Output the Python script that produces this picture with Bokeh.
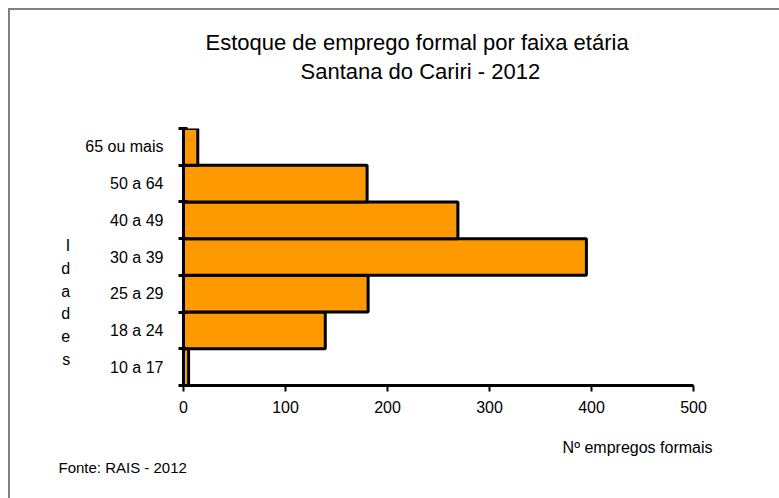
from bokeh.plotting import figure
from bokeh.models import (FactorRange, Range1d, LinearAxis, FixedTicker,
                          ColumnDataSource, Title)
from bokeh.embed import file_html
from bokeh.resources import INLINE

# ---- data ----
categories = ["10 a 17", "18 a 24", "25 a 29", "30 a 39", "40 a 49", "50 a 64", "65 ou mais"]
values = [5, 139, 181, 395, 269, 180, 14]
x_ticks = [0, 100, 200, 300, 400, 500]

title_line1 = "Estoque de emprego formal por faixa etária"
title_line2 = "Santana do Cariri - 2012"
y_title = "I\nd\na\nd\ne\ns"
x_title = "Nº empregos formais"
source_note = "Fonte: RAIS - 2012"

FONT = "Liberation Sans"

src = ColumnDataSource(dict(cat=categories, val=values))

p = figure(width=779, height=498, output_backend="svg", toolbar_location=None,
           y_range=FactorRange(factors=categories, range_padding=0, factor_padding=0),
           x_range=Range1d(0, 500), x_axis_type=None, y_axis_type=None,
           min_border_left=183, min_border_right=86, min_border_top=128, min_border_bottom=113)
p.outline_line_color = None
p.xgrid.visible = False
p.ygrid.visible = False
p.background_fill_color = "white"
p.border_fill_color = None
p.styles = {
    "background": "linear-gradient(#808080, #808080) 8px 8px / 2px 100% no-repeat, "
                  "linear-gradient(#808080, #808080) 8px 8px / 100% 2px no-repeat, white"
}

p.hbar(y="cat", right="val", left=0, height=1.0, source=src,
       fill_color="#FF9900", line_color="black", line_width=3)

# x axis
xa = LinearAxis(ticker=FixedTicker(ticks=x_ticks))
xa.axis_line_width = 3
xa.axis_line_color = "black"
xa.major_tick_line_width = 2
xa.major_tick_out = 6
xa.major_tick_in = 0
xa.minor_tick_line_color = None
xa.major_label_text_font = FONT
xa.major_label_text_font_size = "16px"
xa.major_label_text_color = "black"
xa.major_label_standoff = 9
p.add_layout(xa, "below")

# y axis: labels at category centres, ticks at boundaries
centers = [i + 0.5 for i in range(len(categories))]
bounds = [float(i) for i in range(len(categories) + 1)]
ya = LinearAxis(ticker=FixedTicker(ticks=centers, minor_ticks=bounds))
ya.major_label_overrides = {c: cat for c, cat in zip(centers, categories)}
ya.axis_line_width = 3
ya.axis_line_color = "black"
ya.major_tick_line_color = None
ya.major_tick_out = 0
ya.major_tick_in = 0
ya.minor_tick_line_color = "black"
ya.minor_tick_line_width = 3
ya.minor_tick_out = 5
ya.minor_tick_in = 4
ya.major_label_text_font = FONT
ya.major_label_text_font_size = "16px"
ya.major_label_text_color = "black"
ya.major_label_standoff = 15
ya.axis_label = "\n\n\n\n" + y_title
ya.axis_label_orientation = "horizontal"
ya.axis_label_text_font = FONT
ya.axis_label_text_font_size = "16px"
ya.axis_label_text_font_style = "normal"
ya.axis_label_text_color = "black"
ya.axis_label_text_line_height = 1.34
ya.axis_label_standoff = 12
p.add_layout(ya, "left")

# titles (first added is nearest the frame); a blank spacer lifts them
p.add_layout(Title(text=" ", standoff=40, text_font_size="2px"), "above")
p.add_layout(Title(text=title_line2, align="left", offset=117, standoff=2, text_font=FONT,
                   text_font_size="22px", text_font_style="normal", text_color="black"), "above")
p.add_layout(Title(text=title_line1, align="left", offset=22, standoff=2, text_font=FONT,
                   text_font_size="22px", text_font_style="normal", text_color="black"), "above")

# x-axis title and source note below (blank spacer after the axis)
p.add_layout(Title(text=" ", standoff=17, text_font_size="2px"), "below")
p.add_layout(Title(text=x_title, align="right", offset=-19, standoff=1, text_font=FONT,
                   text_font_size="16px", text_font_style="normal", text_color="black"), "below")
p.add_layout(Title(text=source_note, align="left", offset=-125, standoff=0, text_font=FONT,
                   text_font_size="15px", text_font_style="normal", text_color="black"), "below")

open("out.html", "w").write(file_html(p, INLINE))
